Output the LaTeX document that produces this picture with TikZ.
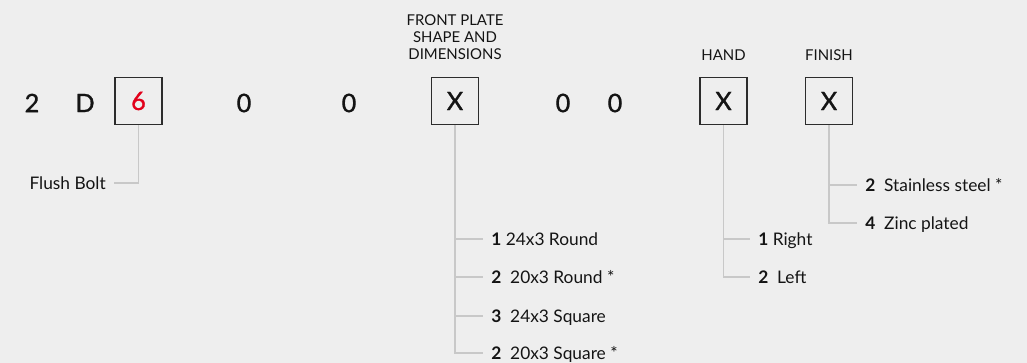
\documentclass[tikz,border=0pt]{standalone}
\usepackage{fontspec}
\setmainfont{Lato}
\newfontfamily\codefont{Lato}[FakeBold=1.2]
\usetikzlibrary{positioning}
\definecolor{pagegray}{RGB}{238,238,238}
\definecolor{linegray}{RGB}{200,200,200}
\definecolor{codered}{RGB}{226,0,26}
\definecolor{ink}{RGB}{20,20,20}

\begin{document}
\begin{tikzpicture}[x=0.75pt, y=-0.75pt, text=ink,
    digit/.style={font=\codefont\fontsize{19}{22}\selectfont, inner sep=0pt},
    codebox/.style={draw=ink!90, line width=0.8pt, minimum size=35.25pt, inner sep=0pt,
      font=\codefont\fontsize{19}{22}\selectfont},
    header/.style={font=\fontsize{11.2}{12.75}\selectfont, align=center, inner sep=0pt},
    option/.style={font=\fontsize{13}{15}\selectfont, anchor=west, inner sep=0pt,
      text height=9.5pt, text depth=0pt},
    leader/.style={draw=linegray, line width=0.8pt}]
  % page
  \fill[pagegray] (0,0) rectangle (1027,363);
  \useasboundingbox (0,0) rectangle (1027,363);
  % the code: 2 D 6 0 0 X 0 0 X X
  \node[digit] (two) at (32,103) {2};
  \node[digit] (dee) at (85,103) {D};
  \node[codebox, text=codered] (six) at (138.5,101) {6};
  \node[digit] (zeroA) at (244,103) {0};
  \node[digit] (zeroB) at (349,103) {0};
  \node[codebox] (plate) at (455,101) {X};
  \node[digit] (zeroC) at (563,103) {0};
  \node[digit] (zeroD) at (615,103) {0};
  \node[codebox] (hand) at (723.5,101) {X};
  \node[codebox] (finish) at (829,101) {X};
  % headers
  \node[header] (plateh) at (455,37) {FRONT PLATE\\SHAPE AND\\DIMENSIONS};
  \node[header] (handh) at (723.5,55) {HAND};
  \node[header] (finishh) at (829,55) {FINISH};
  % flush bolt
  \node[option, anchor=east] (flush) at (106,183) {Flush Bolt};
  \draw[leader] (six.south) |- ([xshift=6pt]flush.east);
  % front plate options
  \node[option] (plateA) at (491,239) {\textbf{1}\ 24x3 Round};
  \node[option] (plateB) at (491,277) {\textbf{2}\ \ 20x3 Round *};
  \node[option] (plateC) at (491,316) {\textbf{3}\ \ 24x3 Square};
  \node[option] (plateD) at (491,353) {\textbf{2}\ \ 20x3 Square *};
  \foreach \o in {plateA,plateB,plateC,plateD}
    \draw[leader] (plate.south) |- ([xshift=-6pt]\o.west);
  % hand options
  \node[option] (handA) at (758,239) {\textbf{1}\ Right};
  \node[option] (handB) at (758,277) {\textbf{2}\ \ Left};
  \foreach \o in {handA,handB}
    \draw[leader] (hand.south) |- ([xshift=-6pt]\o.west);
  % finish options
  \node[option] (finishA) at (865,185) {\textbf{2}\ \ Stainless steel *};
  \node[option] (finishB) at (865,223) {\textbf{4}\ \ Zinc plated};
  \foreach \o in {finishA,finishB}
    \draw[leader] (finish.south) |- ([xshift=-6pt]\o.west);
\end{tikzpicture}
\end{document}
